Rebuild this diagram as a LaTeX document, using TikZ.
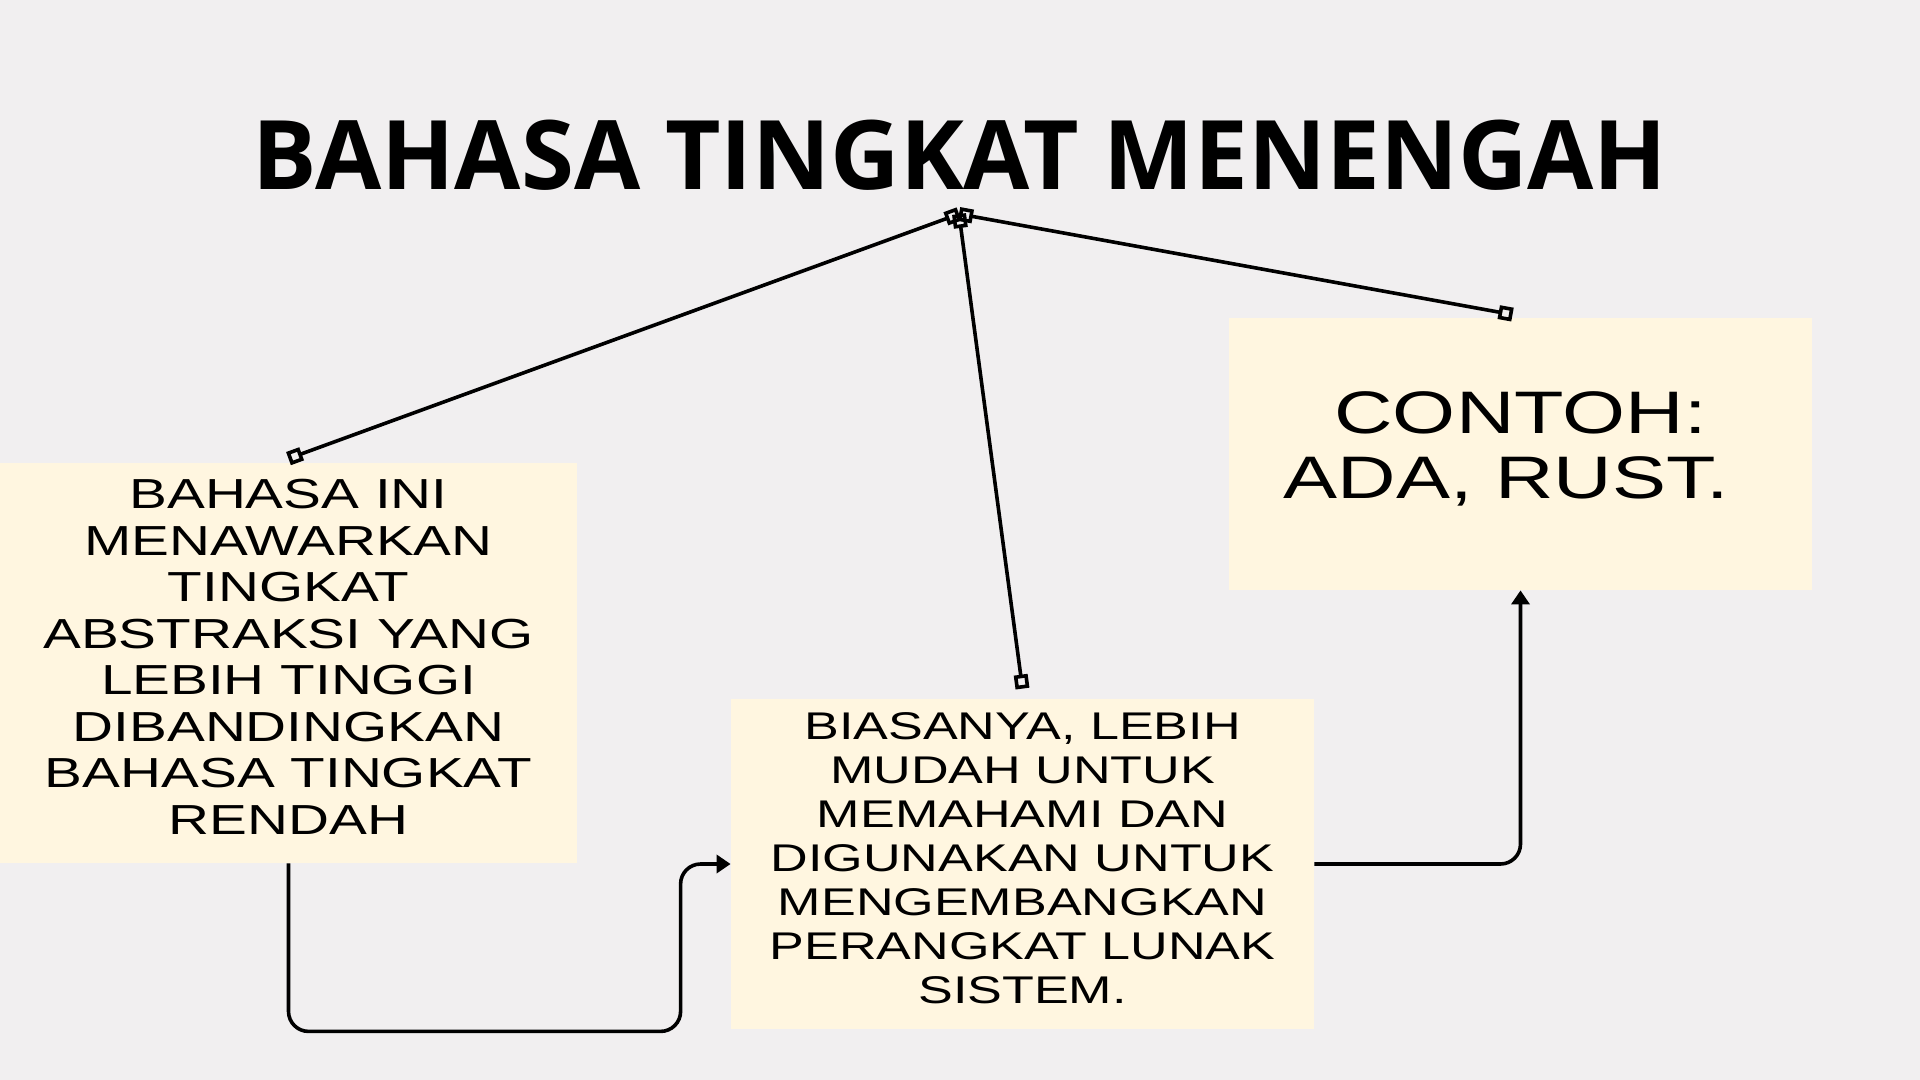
\documentclass[tikz,border=0pt]{standalone}
\usepackage{fontspec}
\setmainfont{Liberation Sans}[FakeStretch=1.35]
\newfontfamily\titlefont{Open Sans}
\usetikzlibrary{arrows.meta}
\definecolor{bgcol}{RGB}{241,239,240}
\definecolor{boxcol}{RGB}{255,246,224}
\tikzset{
  infobox/.style={fill=boxcol, inner sep=0pt, align=center, text depth=6pt},
  link/.style={line width=1.8pt, {Square[open,length=7pt,width=7pt]}-{Square[open,length=7pt,width=7pt]}},
  flow/.style={line width=1.8pt, rounded corners=10pt, -{Triangle[length=7pt,width=9pt]}}
}
\begin{document}
\begin{tikzpicture}[x=0.5pt, y=-0.5pt]
\fill [bgcol] (0,0) rectangle (1920,1080);
% title and hub of the three links
\node (title) at (960,155) {\titlefont\bfseries\fontsize{48}{56}\selectfont BAHASA TINGKAT MENENGAH};
\coordinate (hub) at (959,214);
% boxes
\node [infobox, minimum width=288.5pt, minimum height=200pt, font=\fontsize{21}{23.25}\selectfont] (abstr) at (288.5,663)
  {BAHASA INI\\ MENAWARKAN\\ TINGKAT\\ ABSTRAKSI YANG\\ LEBIH TINGGI\\ DIBANDINGKAN\\ BAHASA TINGKAT\\ RENDAH};
\node [infobox, minimum width=291.5pt, minimum height=165pt, font=\fontsize{19.3}{22}\selectfont] (mudah) at (1022.5,864)
  {BIASANYA, LEBIH\\ MUDAH UNTUK\\ MEMAHAMI DAN\\ DIGUNAKAN UNTUK\\ MENGEMBANGKAN\\ PERANGKAT LUNAK\\ SISTEM.};
\node [infobox, text depth=9pt, minimum width=291.5pt, minimum height=136pt, font=\fontsize{30}{32.5}\selectfont] (contoh) at (1520.5,454)
  {CONTOH:\\ ADA, RUST.\hspace{14pt}\mbox{}};
% links from the title
\draw [link] (hub) -- ([yshift=2pt]abstr.north);
\draw [link] (hub) -- ([yshift=5pt]mudah.north);
\draw [link] (hub) -- ([xshift=-4pt,yshift=1.5pt]contoh.north);
% flow arrows
\draw [flow] (abstr.south) -- ++(0,168) -| ([xshift=-25pt]mudah.west) -- (mudah.west);
\draw [flow] (mudah.east) -| (contoh.south);
\end{tikzpicture}
\end{document}
